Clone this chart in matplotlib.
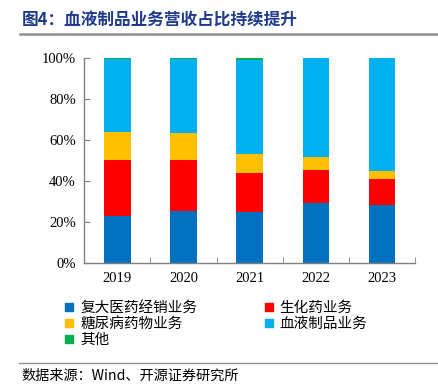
import matplotlib
matplotlib.use('Agg')
import matplotlib.pyplot as plt
from matplotlib.lines import Line2D
import numpy as np

plt.rcParams['font.family'] = ['Noto Sans CJK SC', 'DejaVu Sans']

years = ['2019', '2020', '2021', '2022', '2023']
series = ['复大医药经销业务', '生化药业务', '糖尿病药物业务', '血液制品业务', '其他']
distrib = [23.2, 25.3, 24.8, 29.3, 28.4]
biochem = [27.2, 25.1, 19.3, 15.9, 12.6]
diabetes = [13.3, 13.0, 9.1, 6.5, 3.9]
blood = [35.8, 35.8, 45.7, 48.0, 54.8]
other = [0.5, 0.8, 1.1, 0.3, 0.3]
colors = ['#0070C0', '#FF0000', '#FFC000', '#00B0F0', '#00B050']

fig = plt.figure(figsize=(4.38, 3.87), dpi=100)
ax = fig.add_axes([0.1925, 0.3196, 0.755, 0.5313])

x = np.arange(len(years))
bottom = np.zeros(len(years))
for vals, c in zip([distrib, biochem, diabetes, blood, other], colors):
    ax.bar(x, vals, 0.4, bottom=bottom, color=c, edgecolor='none')
    bottom += np.array(vals)

ax.set_xlim(-0.5, len(years) - 0.5)
ax.set_ylim(0, 100)
ax.set_yticks(range(0, 101, 20))
ax.set_yticklabels([f'{v}%' for v in range(0, 101, 20)],
                   family='Liberation Serif', fontsize=10.5)
ax.set_xticks(x)
ax.set_xticklabels(years, family='Liberation Serif', fontsize=10.5)
ax.set_xticks(np.arange(0.5, len(years), 1), minor=True)
ax.tick_params(axis='x', which='major', length=0, pad=6)
ax.tick_params(axis='x', which='minor', direction='in', length=4, color='#808080')
ax.tick_params(axis='y', direction='in', length=4, color='#808080', pad=6)
for s in ['top', 'right']:
    ax.spines[s].set_visible(False)
for s in ['left', 'bottom']:
    ax.spines[s].set_color('#808080')
    ax.spines[s].set_linewidth(1.0)

handles = [Line2D([], [], marker='s', linestyle='none', markersize=6,
                  markerfacecolor=c, markeredgecolor=c) for c in colors]
order = [0, 2, 4, 1, 3]
fig.legend([handles[i] for i in order], [series[i] for i in order],
           loc='upper left', bbox_to_anchor=(0.135, 0.237), ncol=2,
           frameon=False, fontsize=10.5, handlelength=0.6, handletextpad=0.45,
           columnspacing=4.6, labelspacing=0.14, borderaxespad=0)

fig.text(0.05, 0.948, '图4：血液制品业务营收占比持续提升', fontsize=12,
         fontweight='bold', color='#1F3A8C', va='center')
fig.add_artist(Line2D([0.046, 1.0], [0.912, 0.912], color='#909090', lw=1.8))
fig.add_artist(Line2D([0.043, 1.0], [0.063, 0.063], color='#909090', lw=1.0))
fig.text(0.05, 0.03, '数据来源：Wind、开源证券研究所', fontsize=10.2, va='center')

fig.savefig('out.png', dpi=100)
